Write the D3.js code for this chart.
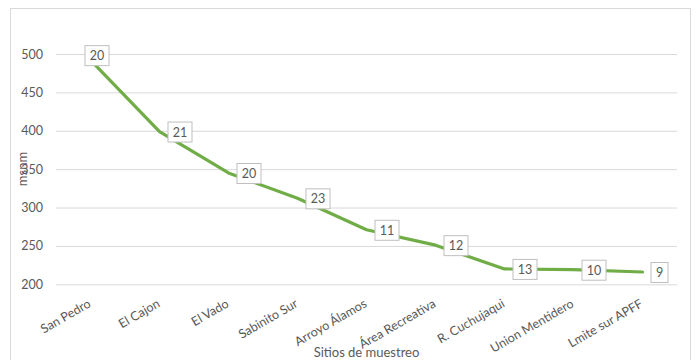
<!DOCTYPE html>
<html><head><meta charset="utf-8">
<script src="https://cdn.jsdelivr.net/npm/d3@7"></script>
<style>body{margin:0;background:#fff}svg{display:block}text{font-family:Lato,"Open Sans",sans-serif}</style>
</head><body>
<script>
const categories = ["San Pedro","El Cajon","El Vado","Sabinito Sur","Arroyo Álamos","Área Recreativa","R. Cuchujaqui","Union Mentidero","Lmite sur APFF"];
const elevations = [492, 399, 345, 312, 271, 251, 220, 219, 216];
const labels = [20, 21, 20, 23, 11, 12, 13, 10, 9];
const yTicks = [200, 250, 300, 350, 400, 450, 500];

const W = 699, H = 360;
const m = {left: 56, right: 677, top: 54, bottom: 284.3};
const svg = d3.select("body").append("svg").attr("width", W).attr("height", H);

svg.append("rect").attr("x", 10.5).attr("y", 8.5).attr("width", 680).attr("height", 360)
  .attr("fill", "#fff").attr("stroke", "#D9D9D9");

const x = d3.scaleBand().domain(categories).range([m.left, m.right]);
const y = d3.scaleLinear().domain([200, 500]).range([m.bottom, m.top]);

const yAxis = svg.append("g").attr("transform", `translate(${m.left},0)`)
  .call(d3.axisLeft(y).tickValues(yTicks).tickSize(-(m.right - m.left)).tickPadding(13));
yAxis.select(".domain").remove();
yAxis.selectAll(".tick line").attr("stroke", "#D9D9D9").attr("stroke-width", 1);
yAxis.selectAll(".tick text").attr("fill", "#595959").style("font-size", "12.5px");

const xAxis = svg.append("g").attr("transform", `translate(0,${m.bottom})`)
  .call(d3.axisBottom(x).tickSize(0));
xAxis.select(".domain").remove();
xAxis.selectAll(".tick text")
  .attr("fill", "#595959").style("font-size", "12.5px")
  .attr("text-anchor", "end")
  .attr("transform", "translate(-1,18) rotate(-30)")
  .attr("dy", "0.35em").attr("y", 0);

const cx = d => x(d) + x.bandwidth() / 2;
const line = d3.line().x((d, i) => cx(categories[i])).y(d => y(d));
svg.append("path").datum(elevations).attr("d", line)
  .attr("fill", "none").attr("stroke", "#70AD47").attr("stroke-width", 3.2)
  .attr("stroke-linejoin", "round").attr("stroke-linecap", "round");

const lg = svg.append("g");
elevations.forEach((v, i) => {
  const t = String(labels[i]);
  const bw = t.length > 1 ? 24 : 17, bh = 20;
  const px = cx(categories[i]), py = y(v);
  const bx = i === 0 ? px - 6 : px + 8;
  const by = i === 0 ? py - 15 : py - bh / 2;
  lg.append("rect").attr("x", bx + 0.5).attr("y", by + 0.5).attr("width", bw).attr("height", bh)
    .attr("fill", "#fff").attr("stroke", "#BFBFBF").attr("stroke-width", 1);
  lg.append("text").attr("x", bx + 0.5 + bw / 2).attr("y", by + 0.5 + bh / 2).attr("dy", "0.36em")
    .attr("text-anchor", "middle").attr("fill", "#595959").style("font-size", "12.5px").text(t);
});

svg.append("text").attr("transform", `translate(27,169) rotate(-90)`).attr("text-anchor", "middle")
  .attr("fill", "#595959").style("font-size", "13px").text("msnm");
svg.append("text").attr("x", (m.left + m.right) / 2).attr("y", 357).attr("text-anchor", "middle")
  .attr("fill", "#595959").style("font-size", "13px").text("Sitios de muestreo");
</script>
</body></html>
